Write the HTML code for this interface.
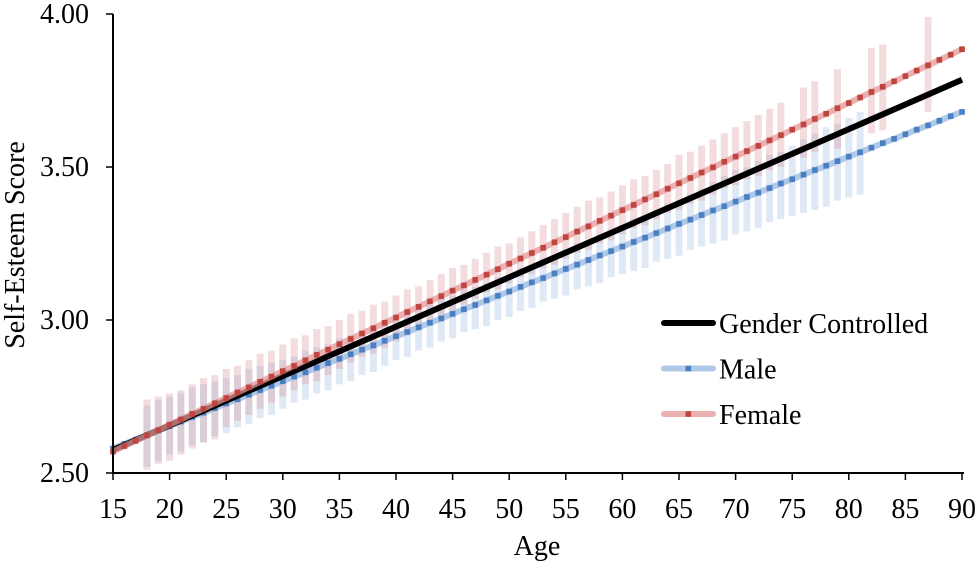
<!DOCTYPE html>
<html><head><meta charset="utf-8"><style>
html,body{margin:0;padding:0;background:#fff;}
svg{display:block;font-family:"Liberation Serif",serif;}
</style></head><body>
<svg id="chart" width="980" height="562" viewBox="0 0 980 562" xmlns="http://www.w3.org/2000/svg">
<g id="bars"></g>
<g id="lines"></g>
<g id="axes"></g>
<g id="legend"></g>
</svg>
<script>
const ages = [15,16,17,18,19,20,21,22,23,24,25,26,27,28,29,30,31,32,33,34,35,36,37,38,39,40,41,42,43,44,45,46,47,48,49,50,51,52,53,54,55,56,57,58,59,60,61,62,63,64,65,66,67,68,69,70,71,72,73,74,75,76,77,78,79,80,81,82,83,84,85,86,87,88,89,90];
const femaleVals = [2.570,2.588,2.605,2.623,2.640,2.658,2.675,2.693,2.710,2.728,2.745,2.763,2.780,2.798,2.815,2.833,2.850,2.868,2.886,2.903,2.921,2.938,2.956,2.973,2.991,3.008,3.026,3.043,3.061,3.078,3.096,3.113,3.131,3.148,3.166,3.184,3.201,3.219,3.236,3.254,3.271,3.289,3.306,3.324,3.341,3.359,3.376,3.394,3.411,3.429,3.447,3.464,3.482,3.499,3.517,3.534,3.552,3.569,3.587,3.604,3.622,3.639,3.657,3.674,3.692,3.709,3.727,3.745,3.762,3.780,3.797,3.815,3.832,3.850,3.867,3.885];
const maleVals = [2.580,2.595,2.609,2.624,2.639,2.653,2.668,2.683,2.697,2.712,2.727,2.741,2.756,2.771,2.785,2.800,2.815,2.829,2.844,2.859,2.873,2.888,2.903,2.917,2.932,2.947,2.961,2.976,2.991,3.005,3.020,3.035,3.049,3.064,3.079,3.093,3.108,3.123,3.137,3.152,3.167,3.181,3.196,3.211,3.225,3.240,3.255,3.269,3.284,3.299,3.314,3.328,3.343,3.358,3.372,3.387,3.402,3.416,3.431,3.446,3.460,3.475,3.490,3.504,3.519,3.534,3.548,3.563,3.578,3.592,3.607,3.622,3.636,3.651,3.666,3.680];
const controlledAges = [15,90];
const controlledVals = [2.575,3.785];
const fBarAges = [18,19,20,21,22,23,24,25,26,27,28,29,30,31,32,33,34,35,36,37,38,39,40,41,42,43,44,45,46,47,48,49,50,51,52,53,54,55,56,57,58,59,60,61,62,63,64,65,66,67,68,69,70,71,72,73,74,76,77,79,82,83,87];
const fBarLo = [2.51,2.53,2.54,2.56,2.58,2.60,2.61,2.65,2.67,2.69,2.71,2.73,2.75,2.77,2.79,2.80,2.82,2.84,2.86,2.88,2.89,2.91,2.93,2.95,2.97,2.99,3.01,3.03,3.05,3.07,3.09,3.10,3.12,3.14,3.15,3.17,3.18,3.20,3.22,3.23,3.25,3.26,3.28,3.30,3.31,3.33,3.35,3.36,3.38,3.39,3.41,3.43,3.44,3.46,3.47,3.49,3.50,3.53,3.55,3.56,3.61,3.62,3.68];
const fBarHi = [2.74,2.75,2.76,2.77,2.79,2.81,2.82,2.84,2.85,2.87,2.89,2.90,2.92,2.94,2.95,2.97,2.98,3.00,3.02,3.03,3.05,3.06,3.08,3.10,3.11,3.13,3.15,3.17,3.18,3.20,3.22,3.24,3.25,3.27,3.29,3.31,3.33,3.35,3.37,3.39,3.40,3.42,3.44,3.46,3.47,3.49,3.51,3.54,3.55,3.57,3.59,3.61,3.63,3.65,3.67,3.69,3.71,3.76,3.78,3.82,3.89,3.90,3.99];
const mBarAges = [18,19,20,21,22,23,24,25,26,27,28,29,30,31,32,33,34,35,36,37,38,39,40,41,42,43,44,45,46,47,48,49,50,51,52,53,54,55,56,57,58,59,60,61,62,63,64,65,66,67,68,69,70,71,72,73,74,75,76,77,78,79,80,81];
const mBarLo = [2.52,2.54,2.56,2.57,2.59,2.60,2.62,2.63,2.65,2.66,2.68,2.69,2.71,2.73,2.74,2.76,2.77,2.79,2.80,2.82,2.83,2.85,2.87,2.88,2.90,2.91,2.93,2.94,2.96,2.97,2.98,3.00,3.01,3.03,3.04,3.06,3.07,3.08,3.10,3.11,3.12,3.14,3.15,3.16,3.17,3.19,3.20,3.21,3.23,3.24,3.25,3.26,3.28,3.29,3.30,3.32,3.33,3.34,3.35,3.36,3.37,3.39,3.40,3.41];
const mBarHi = [2.72,2.74,2.75,2.76,2.78,2.79,2.80,2.81,2.82,2.84,2.85,2.86,2.87,2.88,2.90,2.91,2.92,2.94,2.95,2.96,2.98,2.99,3.01,3.02,3.04,3.05,3.07,3.08,3.10,3.11,3.12,3.14,3.15,3.17,3.18,3.20,3.21,3.23,3.25,3.26,3.28,3.29,3.31,3.33,3.34,3.36,3.38,3.39,3.41,3.43,3.45,3.47,3.49,3.50,3.52,3.54,3.55,3.57,3.59,3.61,3.63,3.64,3.66,3.68];
const xTicks = [15,20,25,30,35,40,45,50,55,60,65,70,75,80,85,90];
const yTicks = [2.5,3.0,3.5,4.0];
const yTickLabels = ["2.50","3.00","3.50","4.00"];

const NS = "http://www.w3.org/2000/svg";
const X0 = 113, X1 = 962, Y0 = 473, Y1 = 14;
function xs(a){ return X0 + (a - 15) / 75 * (X1 - X0); }
function ys(v){ return Y0 - (v - 2.5) / 1.5 * (Y0 - Y1); }
function mk(tag, attrs, parent){
  const e = document.createElementNS(NS, tag);
  for (const k in attrs) e.setAttribute(k, attrs[k]);
  parent.appendChild(e);
  return e;
}
const gb = document.getElementById('bars');
const gl = document.getElementById('lines');
const ga = document.getElementById('axes');
const gg = document.getElementById('legend');

mBarAges.forEach((a, i) => {
  const r = mk('rect', {x: xs(a) - 3.5, y: ys(mBarHi[i]), width: 7, height: ys(mBarLo[i]) - ys(mBarHi[i]), fill: 'rgba(150,180,222,0.30)'}, gb);
  
  
});
fBarAges.forEach((a, i) => {
  const r = mk('rect', {x: xs(a) - 3.5, y: ys(fBarHi[i]), width: 7, height: ys(fBarLo[i]) - ys(fBarHi[i]), fill: 'rgba(215,140,145,0.30)'}, gb);
  
  
});

function series(vals, lineColor, markColor, name){
  const pts = ages.map((a, i) => xs(a).toFixed(1) + ',' + ys(vals[i]).toFixed(1)).join(' ');
  const pl = mk('polyline', {points: pts, fill: 'none', stroke: lineColor, 'stroke-width': 6, 'stroke-linecap': 'round'}, gl);
  
  
  ages.forEach((a, i) => {
    const m = mk('rect', {x: xs(a) - 2.8, y: ys(vals[i]) - 2.8, width: 5.6, height: 5.6, fill: markColor}, gl);
    
    
  });
}
series(maleVals, 'rgba(150,183,225,0.75)', '#4a7fc1', 'male');
const bl = mk('line', {x1: xs(controlledAges[0]), y1: ys(controlledVals[0]), x2: xs(controlledAges[1]), y2: ys(controlledVals[1]), stroke: '#000', 'stroke-width': 6}, gl);


series(femaleVals, 'rgba(228,150,150,0.75)', '#c0443f', 'female');

const FS = 28;
const xa = mk('line', {x1: X0, y1: Y0, x2: X1 + 2, y2: Y0, stroke: '#000', 'stroke-width': 2}, ga);


const ya = mk('line', {x1: X0, y1: Y0, x2: X0, y2: Y1, stroke: '#000', 'stroke-width': 2}, ga);


xTicks.forEach(t => {
  const tk = mk('line', {x1: xs(t), y1: Y0, x2: xs(t), y2: Y0 + 7, stroke: '#000', 'stroke-width': 1.5}, ga);
  
  
  const tx = mk('text', {x: xs(t), y: 518, 'font-size': FS, 'text-anchor': 'middle', fill: '#000'}, ga);
  tx.textContent = t;
  
  
});
yTicks.forEach((t, i) => {
  const tk = mk('line', {x1: X0 - 7, y1: ys(t), x2: X0, y2: ys(t), stroke: '#000', 'stroke-width': 1.5}, ga);
  
  
  const tx = mk('text', {x: 89, y: ys(t) + 9, 'font-size': FS, 'text-anchor': 'end', fill: '#000'}, ga);
  tx.textContent = yTickLabels[i];
  
  
});
const xt = mk('text', {x: 537, y: 555, 'font-size': FS, 'text-anchor': 'middle', fill: '#000'}, ga);
xt.textContent = 'Age';


const yt = mk('text', {x: 0, y: 0, 'font-size': FS, 'text-anchor': 'middle', fill: '#000', transform: 'translate(24,245) rotate(-90)'}, ga);
yt.textContent = 'Self-Esteem Score';



const legendNames = ['Gender Controlled', 'Male', 'Female'];
const legendLine = ['#000', 'rgba(150,183,225,0.75)', 'rgba(228,150,150,0.75)'];
const legendMark = [null, '#4a7fc1', '#c0443f'];
legendNames.forEach((n, i) => {
  const y = 323 + i * 45.5;
  const l = mk('line', {x1: 664, y1: y, x2: 713, y2: y, stroke: legendLine[i], 'stroke-width': 6, 'stroke-linecap': 'round'}, gg);
  
  
  if (legendMark[i]) {
    const m = mk('rect', {x: 685.5, y: y - 2.8, width: 5.6, height: 5.6, fill: legendMark[i]}, gg);
    
    
  }
  const t = mk('text', {x: 719, y: y + 10, 'font-size': FS, fill: '#000'}, gg);
  t.textContent = n;
  
  
});
</script>
</body></html>
